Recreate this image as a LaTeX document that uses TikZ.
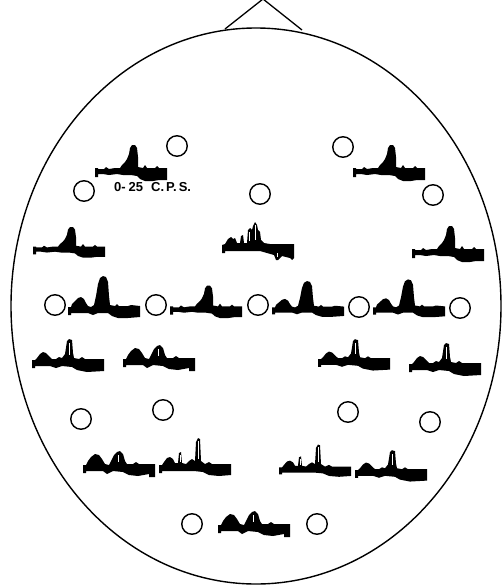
\documentclass[tikz,border=0pt]{standalone}
\usepackage{fontspec}
\setmainfont{Liberation Sans}
\begin{document}
\begin{tikzpicture}[x=1pt,y=-1pt,
  elec/.style={draw,circle,line width=1.4pt,minimum size=20.5pt,inner sep=0pt},
  cps/.style={font=\bfseries\fontsize{13}{13}\selectfont,inner sep=0pt},
  tA/.pic={\fill (0,-4) -- (3,-4) -- (3,-3) -- (9,-3) -- (11,-5) -- (14,-3) -- (20,-4) -- (25,-4) -- (27,-7) -- (30,-10) -- (32,-13) -- (34,-18) -- (35,-24) -- (37,-27) -- (40,-27) -- (42,-24) -- (43,-15) -- (43,-5) -- (48,-4) -- (50,-7) -- (52,-4) -- (60,-4) -- (62,-6) -- (64,-4) -- (72,-4) -- (72,8) -- (64,8) -- (58,9) -- (50,9) -- (45,7) -- (42,4) -- (36,3) -- (28,3) -- (22,2) -- (14,3) -- (8,2) -- (3,2) -- (3,5) -- (0,5) -- cycle;},
  tD/.pic={\fill (0,-3) -- (3,-3) -- (4,-6) -- (7,-9) -- (10,-12) -- (13,-13) -- (16,-11) -- (18,-7) -- (20,-4) -- (23,-3) -- (26,-5) -- (28,-14) -- (30,-26) -- (32,-32) -- (35,-34) -- (38,-33) -- (40,-28) -- (41,-14) -- (42,-5) -- (47,-4) -- (49,-6) -- (51,-4) -- (60,-4) -- (63,-5) -- (72,-4) -- (72,7) -- (60,8) -- (50,8) -- (44,6) -- (40,3) -- (30,3) -- (25,5) -- (20,3) -- (12,3) -- (6,3) -- (3,3) -- (3,5) -- (0,5) -- cycle;},
  tB/.pic={\fill (0,-3) -- (3,-3) -- (5,-5) -- (8,-9) -- (11,-11) -- (14,-10) -- (17,-7) -- (20,-4) -- (24,-4) -- (27,-6) -- (30,-5) -- (33,-9) -- (35,-22) -- (37,-24) -- (40,-23) -- (41,-10) -- (42,-5) -- (47,-4) -- (50,-6) -- (53,-4) -- (72,-4) -- (72,8) -- (55,9) -- (45,7) -- (40,4) -- (30,3) -- (24,5) -- (18,3) -- (10,3) -- (3,3) -- (3,5) -- (0,5) -- cycle;
    \draw[white,line width=0.6pt] (37.5,-20) -- (37.5,-8);},
  tE/.pic={\fill (0,-3) -- (3,-3) -- (5,-7) -- (8,-11) -- (12,-14) -- (16,-13) -- (19,-9) -- (22,-4) -- (26,-3) -- (28,-7) -- (31,-13) -- (34,-16) -- (37,-17) -- (40,-14) -- (42,-7) -- (44,-4) -- (50,-4) -- (53,-6) -- (56,-4) -- (72,-4) -- (72,9) -- (66,9) -- (66,6) -- (55,8) -- (46,7) -- (40,4) -- (30,3) -- (24,6) -- (20,3) -- (10,3) -- (3,3) -- (3,5) -- (0,5) -- cycle;
    \draw[white,line width=0.6pt] (35,-13) -- (35,-6);},
  tF/.pic={\fill (0,-3) -- (3,-3) -- (5,-6) -- (8,-10) -- (11,-11) -- (14,-9) -- (16,-5) -- (19,-5) -- (20,-15) -- (22,-16) -- (23,-5) -- (27,-4) -- (30,-7) -- (33,-9) -- (36,-7) -- (37,-26) -- (39,-30) -- (41,-29) -- (42,-7) -- (46,-4) -- (50,-6) -- (53,-4) -- (72,-4) -- (72,7) -- (60,8) -- (50,7) -- (44,4) -- (35,3) -- (25,3) -- (15,3) -- (3,3) -- (3,5) -- (0,5) -- cycle;
    \draw[white,line width=0.6pt] (21,-13) -- (21,-6) (39,-27) -- (39,-9);},
  tC/.pic={\fill (0,-3) -- (3,-4) -- (6,-9) -- (9,-11) -- (11,-9) -- (13,-10) -- (15,-5) -- (18,-5) -- (19,-12) -- (21,-13) -- (22,-5) -- (25,-5) -- (26,-18) -- (28,-20) -- (30,-18) -- (31,-22) -- (33,-26) -- (35,-23) -- (36,-18) -- (38,-16) -- (39,-8) -- (42,-5) -- (48,-4) -- (52,-4) -- (72,-4) -- (72,10) -- (70,12) -- (68,10) -- (60,8) -- (56,12) -- (54,12) -- (52,7) -- (45,5) -- (38,3) -- (25,3) -- (10,3) -- (3,3) -- (3,5) -- (0,5) -- cycle;
    \draw[white,line width=0.6pt] (27.5,-16) -- (27.5,-7) (33,-23) -- (33,-8) (55,9) -- (55,5);}
]
\useasboundingbox (0,0) rectangle (501,586);
% head
\draw[line width=1.4pt] (256,306) ellipse [x radius=245, y radius=278];
% nose
\coordinate (nl) at (225,29);
\coordinate (nr) at (302,30);
\coordinate (ntip) at (263,-1);
\draw[line width=1.3pt] (nl) -- (ntip) -- (nr);
% electrodes
\node[elec] (e1) at (177,146) {};
\node[elec] (e2) at (343,147) {};
\node[elec] (e3) at (84,191) {};
\node[elec] (e4) at (260,194) {};
\node[elec] (e5) at (433,195) {};
\node[elec] (e6) at (55,305) {};
\node[elec] (e7) at (156,305) {};
\node[elec] (e8) at (258,305) {};
\node[elec] (e9) at (359,307) {};
\node[elec] (e10) at (460,308) {};
\node[elec] (e11) at (81,419) {};
\node[elec] (e12) at (163,410) {};
\node[elec] (e13) at (348,412) {};
\node[elec] (e14) at (430,422) {};
\node[elec] (e15) at (192,524) {};
\node[elec] (e16) at (317,524) {};
% label
\node[cps,anchor=west] (lab) at (114,187) {0-\hspace{3pt}25\hspace{8pt}C.\hspace{2pt}P.\hspace{2pt}S.};
% spectra
\pic at (95,172) {tA};
\pic at (353,172) {tA};
\pic[yscale=0.85] at (33,250) {tA};
\pic at (222,248) {tC};
\pic at (412,253) {tA};
\pic at (68,310) {tD};
\pic[yscale=0.9] at (170,310) {tA};
\pic[yscale=0.85] at (272,310) {tD};
\pic[yscale=0.9] at (373,310) {tD};
\pic at (32,363) {tB};
\pic at (123,362) {tE};
\pic[yscale=0.95] at (318,362) {tB};
\pic at (409,367) {tB};
\pic at (83,468) {tE};
\pic at (159,468) {tF};
\pic[yscale=0.85] at (279,470) {tF};
\pic[yscale=0.95] at (355,473) {tB};
\pic at (218,528) {tE};
\end{tikzpicture}
\end{document}
